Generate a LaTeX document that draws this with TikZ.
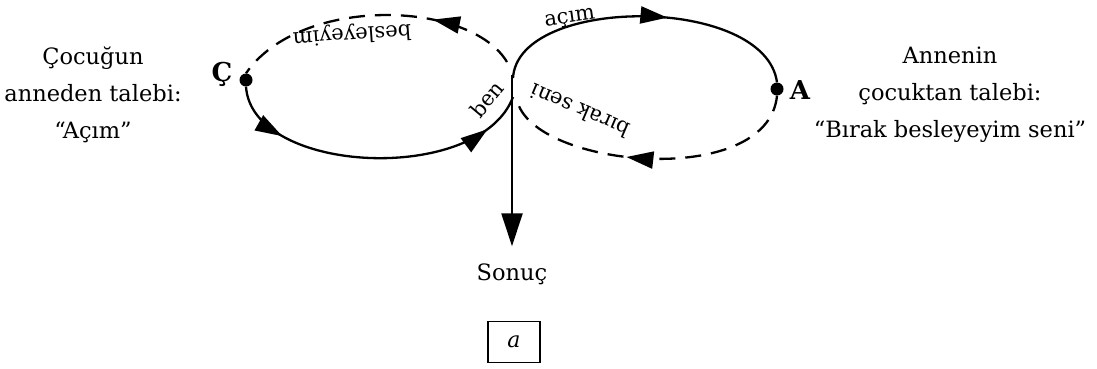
\documentclass[tikz,border=0pt]{standalone}
\usepackage{fontspec}
\setmainfont{DejaVu Serif}
\usetikzlibrary{arrows.meta,decorations.markings}
\begin{document}
\begin{tikzpicture}[x=1pt,y=-1pt,
  >={Triangle[length=27pt,width=17pt]},
  curve/.style={line width=2.3pt},
  dashcurve/.style={line width=2.3pt, dash pattern=on 16pt off 10pt},
  txt/.style={font=\fontsize{22.5}{37}\selectfont, align=center, inner sep=0pt},
  lbl/.style={font=\fontsize{21}{26}\selectfont, inner sep=0pt},
  dot/.style={circle, fill, inner sep=0pt, minimum size=13pt},
  tag/.style={font=\fontsize{26}{30}\selectfont\bfseries, inner sep=0pt},
  heads/.style={postaction={decorate}, decoration={markings, #1}}
]
\useasboundingbox (0,0) rectangle (1097,368);

% crossing point of the figure eight
\coordinate (J)  at (512,75);
\coordinate (JU) at (513,78);
\coordinate (JD) at (507,62);
\coordinate (JL) at (513,97);
\coordinate (JR) at (517,100);

% the two poles
\node[dot] (C) at (246,80) {};
\node[dot] (A) at (777,89) {};
\node[tag] (Ctag) at (222,74) {Ç};
\node[tag] (Atag) at (800,90) {A};

% left loop: solid lower arc, dashed upper arc
\draw[curve, heads={mark=at position 0.2 with {\arrow{>}}, mark=at position 0.87 with {\arrow{>}}}]
  (C.south) .. controls (252,175) and (480,185) .. (JL);
\draw[dashcurve, heads={mark=at position 0.3 with {\pgfsetdash{}{0pt}\arrow{>}}}]
  (JD) .. controls (470,0) and (300,-5) .. (C.north);

% right loop: solid upper arc, dashed lower arc
\draw[curve, heads={mark=at position 0.57 with {\arrow{>}}}]
  (JU) .. controls (518,-5) and (765,-5) .. (A.north);
\draw[dashcurve, heads={mark=at position 0.58 with {\pgfsetdash{}{0pt}\arrow{>}}}]
  (A.south) .. controls (768,190) and (532,168) .. (JR);

% labels along the loops
\node[lbl, rotate=184] (l1) at (352,34) {besleyeyim};
\node[lbl, rotate=8]   (l2) at (570,19) {açım};
\node[lbl, rotate=50]  (l3) at (487,99) {ben};
\node[lbl, rotate=157] (l4) at (580,111) {bırak seni};

% outcome
\node[txt] (sonuc) at (512,274) {Sonuç};
\draw[curve, -{Triangle[length=33pt,width=21pt]}, shorten >=17pt] (J) -- (sonuc.north);

\node[draw, line width=1.3pt, minimum width=52pt, minimum height=41pt,
      font=\fontsize{22}{26}\selectfont\itshape] (fig) at (514,342) {a};

% side texts
\node[txt] (child)  at (93,95)  {Çocuğun\\anneden talebi:\\“Açım”};
\node[txt] (mother) at (950,95) {Annenin\\çocuktan talebi:\\“Bırak besleyeyim seni”};
\end{tikzpicture}
\end{document}
